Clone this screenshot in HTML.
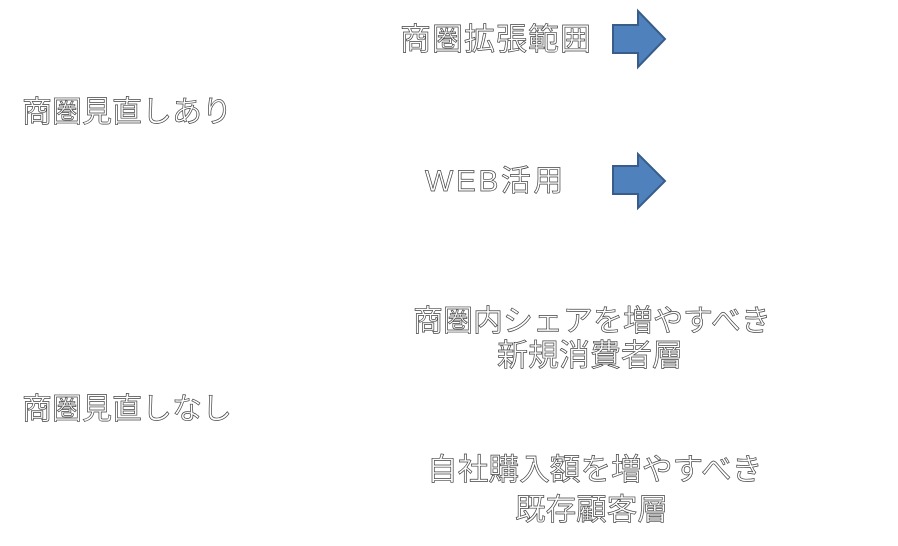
<!DOCTYPE html>
<html><head><meta charset="utf-8"><style>
html,body{margin:0;padding:0;background:#fff;}
body{width:898px;height:546px;position:relative;overflow:hidden;font-family:"Liberation Sans","Noto Sans CJK JP",sans-serif;}
.t{position:absolute;white-space:nowrap;font-size:30px;line-height:34px;color:#fff;-webkit-text-stroke:0.7px #444;letter-spacing:0px;}
svg{position:absolute;left:0;top:0;}
</style></head><body>
<div class="t" style="left:400px;top:23px;font-size:31px;letter-spacing:1px;">商圏拡張範囲</div>
<div class="t" style="left:22px;top:96px;font-size:30px;">商圏見直しあり</div>
<div class="t" style="left:425px;top:165px;font-size:30px;letter-spacing:2.5px;">WEB活用</div>
<div class="t" style="left:413px;top:305px;font-size:30px;">商圏内シェアを増やすべき</div>
<div class="t" style="left:497px;top:339px;font-size:31px;">新規消費者層</div>
<div class="t" style="left:22px;top:393px;font-size:30px;">商圏見直しなし</div>
<div class="t" style="left:427px;top:453px;font-size:30.7px;">自社購入額を増やすべき</div>
<div class="t" style="left:515px;top:493px;font-size:30.6px;">既存顧客層</div>
<svg width="898" height="546">
<polygon points="613,25 638,25 638,11 665,39 638,67 638,53 613,53" fill="#4f81bd" stroke="#385d8a" stroke-width="2"/>
<polygon points="613,166 638,166 638,154 665,181 638,208 638,194 613,194" fill="#4f81bd" stroke="#385d8a" stroke-width="2"/>
</svg>
</body></html>
